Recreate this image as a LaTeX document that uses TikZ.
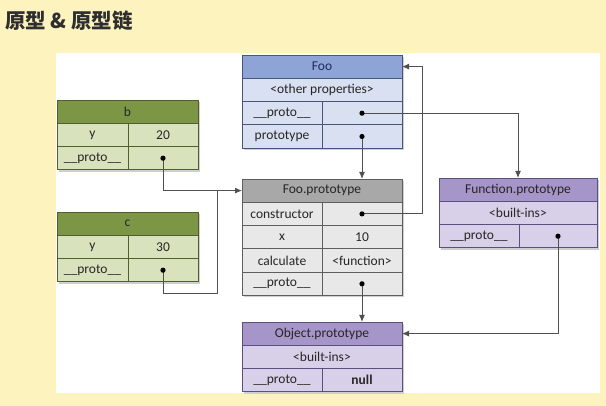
\documentclass[tikz,border=0pt]{standalone}
\usepackage{fontspec}
\setmainfont{Carlito}
\newfontfamily\cjk{Noto Sans CJK SC}
\usetikzlibrary{positioning,arrows.meta,backgrounds}

\definecolor{pagebg}{HTML}{FDF3BF}
\definecolor{titlec}{HTML}{2E2E2E}
\definecolor{txt}{HTML}{262626}
\definecolor{lncol}{HTML}{505050}
\definecolor{shadowc}{HTML}{CFCFCF}
% green (b, c)
\definecolor{ghd}{HTML}{7D9646}
\definecolor{grw}{HTML}{D8E3BD}
\definecolor{gln}{HTML}{4F5F2E}
% blue (Foo)
\definecolor{bhd}{HTML}{8EA3D6}
\definecolor{brw}{HTML}{D9E0F1}
\definecolor{bln}{HTML}{46557A}
\definecolor{btx}{HTML}{1E2C58}
% gray (Foo.prototype)
\definecolor{khd}{HTML}{A8A8A8}
\definecolor{krw}{HTML}{E8E8E8}
\definecolor{kln}{HTML}{5E5E5E}
% purple (Object / Function)
\definecolor{phd}{HTML}{A595C9}
\definecolor{prw}{HTML}{D8CFE8}
\definecolor{pln}{HTML}{5C4E7E}

\begin{document}
\begin{tikzpicture}[x=1pt, y=-1pt,
    cell/.style={rectangle, draw, line width=0.8pt, outer sep=0pt, inner sep=0pt,
        minimum height=23.3pt, text=txt, font=\fontsize{13.5}{14}\selectfont},
    ghdr/.style={cell, fill=ghd, draw=gln},
    gtab/.style={cell, fill=grw, draw=gln},
    bhdr/.style={cell, fill=bhd, draw=bln, text=btx},
    btab/.style={cell, fill=brw, draw=bln},
    khdr/.style={cell, fill=khd, draw=kln},
    ktab/.style={cell, fill=krw, draw=kln},
    phdr/.style={cell, fill=phd, draw=pln},
    ptab/.style={cell, fill=prw, draw=pln},
    ln/.style={draw=lncol, line width=0.9pt},
    ar/.style={ln, -{Latex[length=7pt,width=6pt]}},
    shd/.style={fill=shadowc},
  ]
  % title
  \node[font=\cjk\bfseries\fontsize{20.5}{21}\selectfont, text=titlec, anchor=west, inner sep=0pt]
    (title) at (5,20.5) {原型 \& 原型链};

  % b
  \node[ghdr, minimum width=141pt] (b-h) at (127.5,111.6) {b};
  \node[gtab, minimum width=71pt, below right=0pt of b-h.south west] (b-y) {y};
  \node[gtab, minimum width=70pt, right=0pt of b-y] (b-yv) {20};
  \node[gtab, minimum width=71pt, below=0pt of b-y] (b-p) {\_\_proto\_\_};
  \node[gtab, minimum width=70pt, right=0pt of b-p] (b-pv) {};

  % c
  \node[ghdr, minimum width=141pt] (c-h) at (127.5,223.6) {c};
  \node[gtab, minimum width=71pt, below right=0pt of c-h.south west] (c-y) {y};
  \node[gtab, minimum width=70pt, right=0pt of c-y] (c-yv) {30};
  \node[gtab, minimum width=71pt, below=0pt of c-y] (c-p) {\_\_proto\_\_};
  \node[gtab, minimum width=70pt, right=0pt of c-p] (c-pv) {};

  % Foo
  \node[bhdr, minimum width=160pt] (foo-h) at (322,66.6) {Foo};
  \node[btab, minimum width=160pt, below=0pt of foo-h] (foo-o) {<other properties>};
  \node[btab, minimum width=80pt, below right=0pt of foo-o.south west] (foo-p) {\_\_proto\_\_};
  \node[btab, minimum width=80pt, right=0pt of foo-p] (foo-pv) {};
  \node[btab, minimum width=80pt, below=0pt of foo-p] (foo-t) {prototype};
  \node[btab, minimum width=80pt, right=0pt of foo-t] (foo-tv) {};

  % Foo.prototype
  \node[khdr, minimum width=160pt] (fp-h) at (322,190.6) {Foo.prototype};
  \node[ktab, minimum width=80pt, below right=0pt of fp-h.south west] (fp-c) {constructor};
  \node[ktab, minimum width=80pt, right=0pt of fp-c] (fp-cv) {};
  \node[ktab, minimum width=80pt, below=0pt of fp-c] (fp-x) {x};
  \node[ktab, minimum width=80pt, right=0pt of fp-x] (fp-xv) {10};
  \node[ktab, minimum width=80pt, below=0pt of fp-x] (fp-k) {calculate};
  \node[ktab, minimum width=80pt, right=0pt of fp-k] (fp-kv) {<function>};
  \node[ktab, minimum width=80pt, below=0pt of fp-k] (fp-p) {\_\_proto\_\_};
  \node[ktab, minimum width=80pt, right=0pt of fp-p] (fp-pv) {};

  % Object.prototype
  \node[phdr, minimum width=160pt] (op-h) at (322,333.6) {Object.prototype};
  \node[ptab, minimum width=160pt, below=0pt of op-h] (op-b) {<built-ins>};
  \node[ptab, minimum width=80pt, below right=0pt of op-b.south west] (op-p) {\_\_proto\_\_};
  \node[ptab, minimum width=80pt, right=0pt of op-p] (op-pv) {\textbf{null}};

  % Function.prototype
  \node[phdr, minimum width=158pt] (fn-h) at (518,189.6) {Function.prototype};
  \node[ptab, minimum width=158pt, below=0pt of fn-h] (fn-b) {<built-ins>};
  \node[ptab, minimum width=80pt, below right=0pt of fn-b.south west] (fn-p) {\_\_proto\_\_};
  \node[ptab, minimum width=78pt, right=0pt of fn-p] (fn-pv) {};

  % bends
  \coordinate (cj) at (217,293);
  \coordinate (cn) at (422,0);

  % links
  \draw[ar] (b-pv.center) |- (fp-h.west);
  \draw[ln] (c-pv.center) |- (cj) -- (cj |- fp-h.west);
  \draw[ar] (foo-tv.center) -- (foo-tv.center |- fp-h.north);
  \draw[ar] (foo-pv.center) -| (fn-h.north);
  \draw[ar] (fp-cv.center) -- (fp-cv.center -| cn) |- (foo-h.east);
  \draw[ar] (fp-pv.center) -- (fp-pv.center |- op-h.north);
  \draw[ar] (fn-pv.center) |- (op-h.east);

  % dots
  \foreach \v in {b-pv,c-pv,foo-pv,foo-tv,fp-cv,fp-pv,fn-pv}
    \fill (\v.center) circle (2.6pt);

  \begin{pgfonlayer}{background}
    \fill[pagebg] (0,0) rectangle (606,406);
    \fill[white] (56,53) rectangle (600,393);
    \fill[shd] ([shift={(2,2)}]b-h.north west) rectangle ([shift={(2,2)}]b-pv.south east);
    \fill[shd] ([shift={(2,2)}]c-h.north west) rectangle ([shift={(2,2)}]c-pv.south east);
    \fill[shd] ([shift={(2,2)}]foo-h.north west) rectangle ([shift={(2,2)}]foo-tv.south east);
    \fill[shd] ([shift={(2,2)}]fp-h.north west) rectangle ([shift={(2,2)}]fp-pv.south east);
    \fill[shd] ([shift={(2,2)}]op-h.north west) rectangle ([shift={(2,2)}]op-pv.south east);
    \fill[shd] ([shift={(2,2)}]fn-h.north west) rectangle ([shift={(2,2)}]fn-pv.south east);
  \end{pgfonlayer}
\end{tikzpicture}
\end{document}
